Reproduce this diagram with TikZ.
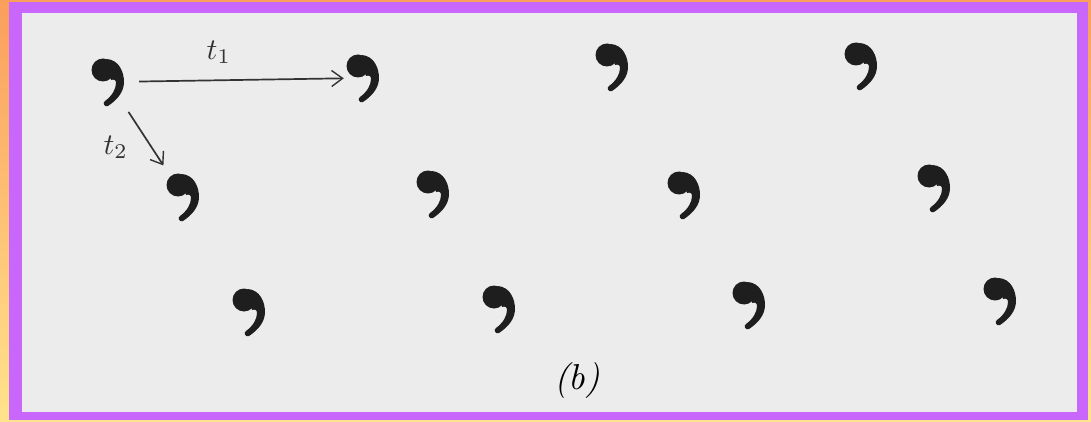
\documentclass[tikz,border=0pt]{standalone}
\usepackage{xcolor}
\usepackage{tikz}
\usetikzlibrary{arrows.meta, positioning}
\definecolor{frameorange}{HTML}{FA9E5C}
\definecolor{frameyellow}{HTML}{FFE48C}
\definecolor{framepurple}{HTML}{C966FB}
\definecolor{paper}{HTML}{EDECED}
\definecolor{ink}{HTML}{1E1E1E}
\tikzset{
  latnode/.style={minimum width=34pt,minimum height=46pt,inner sep=0pt},
  transedge/.style={-{Straight Barb[length=11pt,width=16pt,line width=1.4pt]},line width=1.7pt,black!80},
  veclabel/.style={inner sep=0pt,scale=3},
  commamark/.pic={
    \fill[ink] (0,0) circle [x radius=11.5, y radius=11.5];
    \fill[ink] (4,-11) .. controls (16,-10) and (21,2) .. (21,12)
      .. controls (21,22) and (14,30) .. (5,36)
      .. controls (1.5,37.5) and (-1,33) .. (2,31)
      .. controls (9,26) and (13,19) .. (13,13)
      .. controls (13,10) and (11,9) .. (8,10) -- cycle;
  },
}
\begin{document}
\begin{tikzpicture}[x=1pt,y=-1pt]
  % ---- frame ----
  \shade[top color=frameorange,bottom color=frameyellow] (0,0) rectangle (1091,422);
  \fill[framepurple] (9,2) rectangle (1088,420);
  \fill[paper] (22,13) rectangle (1077,412);
  % ---- lattice points (given by the head of each comma) ----
  \foreach \nm/\hx/\hy in {p11/103/70, p12/358/66, p13/607/55, p14/856/54,
      p21/178/185, p22/428/182, p23/679/183, p24/929/176,
      p31/244/300, p32/494/297, p33/744/293, p34/995/289} {
    \pic at (\hx,\hy) {commamark};
    \node[latnode] (\nm) at (\hx+6,\hy+12) {};
  }
  % ---- translation vectors ----
  \draw[transedge,shorten <=13pt,shorten >=3pt] (p11) -- (p12)
    node[veclabel,pos=0.42,above=14pt] {$t_1$};
  \draw[transedge,shorten <=8pt,shorten >=10pt] (p11) -- (p21)
    node[veclabel,pos=0.61,left=21pt] {$t_2$};
  \node[veclabel,scale=1.2] (cap) at (577,380) {\textit{(b)}};
\end{tikzpicture}
\end{document}
